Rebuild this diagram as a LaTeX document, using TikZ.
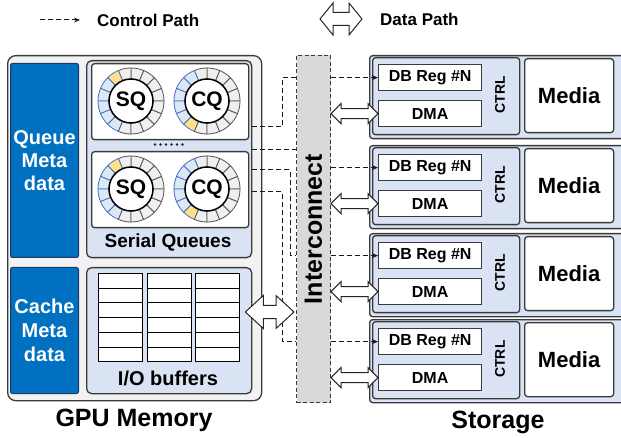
\documentclass[tikz,border=0pt]{standalone}
\usepackage{fontspec}
\setmainfont{Liberation Sans}
\usetikzlibrary{arrows.meta,calc}
\definecolor{gpubg}{HTML}{F2F2F2}
\definecolor{metablue}{HTML}{0070C0}
\definecolor{metaedge}{HTML}{1F3864}
\definecolor{ltblue}{HTML}{DAE3F3}
\definecolor{edge}{HTML}{3A3A3A}
\definecolor{icgray}{HTML}{D9D9D9}
\definecolor{ringgray}{HTML}{EFEFEF}
\definecolor{ringgrayd}{HTML}{555555}
\definecolor{ringblue}{HTML}{DDE8F5}
\definecolor{ringblued}{HTML}{4472C4}
\definecolor{ringyel}{HTML}{FFE08A}
\newcommand\fsz[2]{\fontsize{#1}{#2}\selectfont}
\newcommand\dataarrow[5]{%
  \path[draw=black!85,fill=white,line width=1pt,line join=miter] let \p1=(#1), \p2=(#2) in
   (\x1,\y1) -- (\x1+#5,\y1+#4) -- (\x1+#5,\y1+#3) -- (\x2-#5,\y1+#3) -- (\x2-#5,\y1+#4)
   -- (\x2,\y1) -- (\x2-#5,\y1-#4) -- (\x2-#5,\y1-#3) -- (\x1+#5,\y1-#3) -- (\x1+#5,\y1-#4) -- cycle;}
\newcommand\ringq[6]{% center, node name, label, yellow k, blue from, blue to
  \begin{scope}[shift={(#1)}]
  \foreach \k in {0,...,15}{
    \pgfmathsetmacro\a{\k*22.5}
    \pgfmathsetmacro\b{\k*22.5+22.5}
    \def\fc{ringgray}\def\dc{ringgrayd}
    \ifnum\k<#5 \else \ifnum\k>#6 \else \def\fc{ringblue}\def\dc{ringblued}\fi\fi
    \ifnum\k=#4 \def\fc{ringyel}\def\dc{ringblued}\fi
    \filldraw[fill=\fc,draw=\dc,line width=0.8pt] (\a:22) -- (\a:33) arc[start angle=\a,end angle=\b,radius=33]
      -- (\b:22) arc[start angle=\b,end angle=\a,radius=22] -- cycle;
  }
  \node[circle,draw=black,fill=white,line width=1.5pt,minimum size=44pt,inner sep=0,
        font=\bfseries\fsz{21}{21}] (#2) at (0,0) {#3};
  \end{scope}}
\begin{document}
\begin{tikzpicture}[x=1pt,y=1pt,
  bx/.style 2 args={anchor=north west,inner sep=0,minimum width=#1,minimum height=#2},
  border/.style={draw=edge,line width=1.3pt},
  ctrl/.style={dash pattern=on 5pt off 3pt,line width=1pt,black!90},
  lbl/.style={inner sep=0,font=\bfseries\fsz{#1}{#1}},
]
\useasboundingbox (0,0) rectangle (621,-438);

% legend
\coordinate (lc1) at (40,-20);
\coordinate (lc2) at (80,-20);
\draw[ctrl,-{Stealth[length=6pt,width=5pt]}] (lc1) -- (lc2);
\node[lbl=17,anchor=west] (lgc) at (97,-20) {Control Path};
\coordinate (la1) at (320,-19);
\coordinate (la2) at (362,-19);
\dataarrow{la1}{la2}{6.5pt}{16pt}{13pt}
\node[lbl=17,anchor=west] (lgd) at (380,-19) {Data Path};

% GPU memory
\node[bx={254pt}{345pt},border,fill=gpubg,rounded corners=8pt] (gpu) at (7,-55) {};
\node[bx={68pt}{194pt},draw=metaedge,line width=1pt,fill=metablue,rounded corners=2pt] (qmeta) at (10,-63) {};
\node[lbl=20,text=white,align=center,font=\bfseries\fsz{20}{23}] (qmt) at (qmeta.center) {Queue\\Meta\\data};
\node[bx={68pt}{126pt},draw=metaedge,line width=1pt,fill=metablue,rounded corners=2pt] (cmeta) at (10,-267) {};
\node[lbl=20,text=white,align=center,font=\bfseries\fsz{20}{24}] (cmt) at (cmeta.center) {Cache\\Meta\\data};

\node[bx={165pt}{197pt},border,fill=ltblue,rounded corners=5pt] (sqp) at (86,-60) {};
\node[bx={157pt}{76pt},border,fill=white,rounded corners=3pt] (qb1) at (91,-63) {};
\node[bx={157pt}{76pt},border,fill=white,rounded corners=3pt] (qb2) at (91,-151) {};
\ringq{131,-101}{sq1}{SQ}{5}{6}{10}
\ringq{207,-101}{cq1}{CQ}{10}{5}{9}
\ringq{131,-189}{sq2}{SQ}{5}{6}{10}
\ringq{207,-189}{cq2}{CQ}{10}{5}{9}
\foreach \d in {0,...,5}{\fill[black!85] (155+\d*5.5,-144.5) circle (1.4pt);}
\node[lbl=19] (sqt) at (168,-242) {Serial Queues};

\node[bx={165pt}{126pt},border,fill=ltblue,rounded corners=5pt] (iop) at (86,-267) {};
\foreach \c/\x in {1/98,2/147,3/195}{
  \foreach \r in {0,...,5}{
    \node[bx={44pt}{14.7pt},draw=black,line width=1pt,fill=white] (cell-\c-\r) at (\x,-273-\r*14.7) {};
  }}
\node[lbl=20] (iot) at (168,-378) {I/O buffers};
\node[lbl=25] (gput) at (134,-420) {GPU Memory};

% interconnect
\node[bx={34pt}{347pt},fill=icgray,draw=edge,line width=1pt,dash pattern=on 4pt off 2.5pt] (ic) at (296,-55) {};
\node[lbl=25,rotate=90] (ict) at (ic.center) {Interconnect};

% storage
\foreach \i/\t in {1/55,2/145,3/233,4/319}{
  \node[bx={256pt}{83pt},border,fill=ltblue,rounded corners=3pt] (st\i) at (369,-\t) {};
  \node[bx={147pt}{77pt},border,fill=ltblue,rounded corners=3pt] (ctrl\i) at (372,-\t-2) {};
  \node[bx={103pt}{26pt},border,fill=white,font=\bfseries\fsz{16}{16}] (db\i) at (378,-\t-9) {DB Reg \#N};
  \node[bx={103pt}{26pt},border,fill=white,font=\bfseries\fsz{16}{16}] (dma\i) at (378,-\t-45) {DMA};
  \node[bx={89pt}{74pt},border,fill=white,rounded corners=3pt,font=\bfseries\fsz{22}{22}] (media\i) at (524,-\t-3) {Media};
  \node[lbl=14,rotate=90] (ctrlt\i) at (500,-\t-40) {CTRL};
  \draw[ctrl,-{Stealth[length=6pt,width=5pt]}] (ic.east |- db\i) -- (db\i.west);
  \dataarrow{ic.east |- dma\i}{dma\i.west}{5pt}{10pt}{10pt}
}
\node[lbl=25] (stt) at (498,-422) {Storage};

% control paths from serial queues
\coordinate (s1) at (sqp.east |- 0,-127);
\coordinate (s2) at (sqp.east |- 0,-150);
\coordinate (s3) at (sqp.east |- 0,-170);
\coordinate (s4) at (sqp.east |- 0,-192);
\draw[ctrl] (s1) -| ([xshift=-14pt]ic.west |- db1) -- (ic.west |- db1);
\draw[ctrl] (s2) -- (ic.west |- s2);
\draw[ctrl] (s3) -| ([xshift=-6pt]ic.west |- db3) -- (ic.west |- db3);
\draw[ctrl] (s4) -| ([xshift=-14pt]ic.west |- db4) -- (ic.west |- db4);

% data path from I/O buffers
\dataarrow{[xshift=-7pt]iop.east |- 0,-312}{[xshift=-2pt]ic.west |- 0,-312}{6.5pt}{16.5pt}{18pt}
\end{tikzpicture}
\end{document}
